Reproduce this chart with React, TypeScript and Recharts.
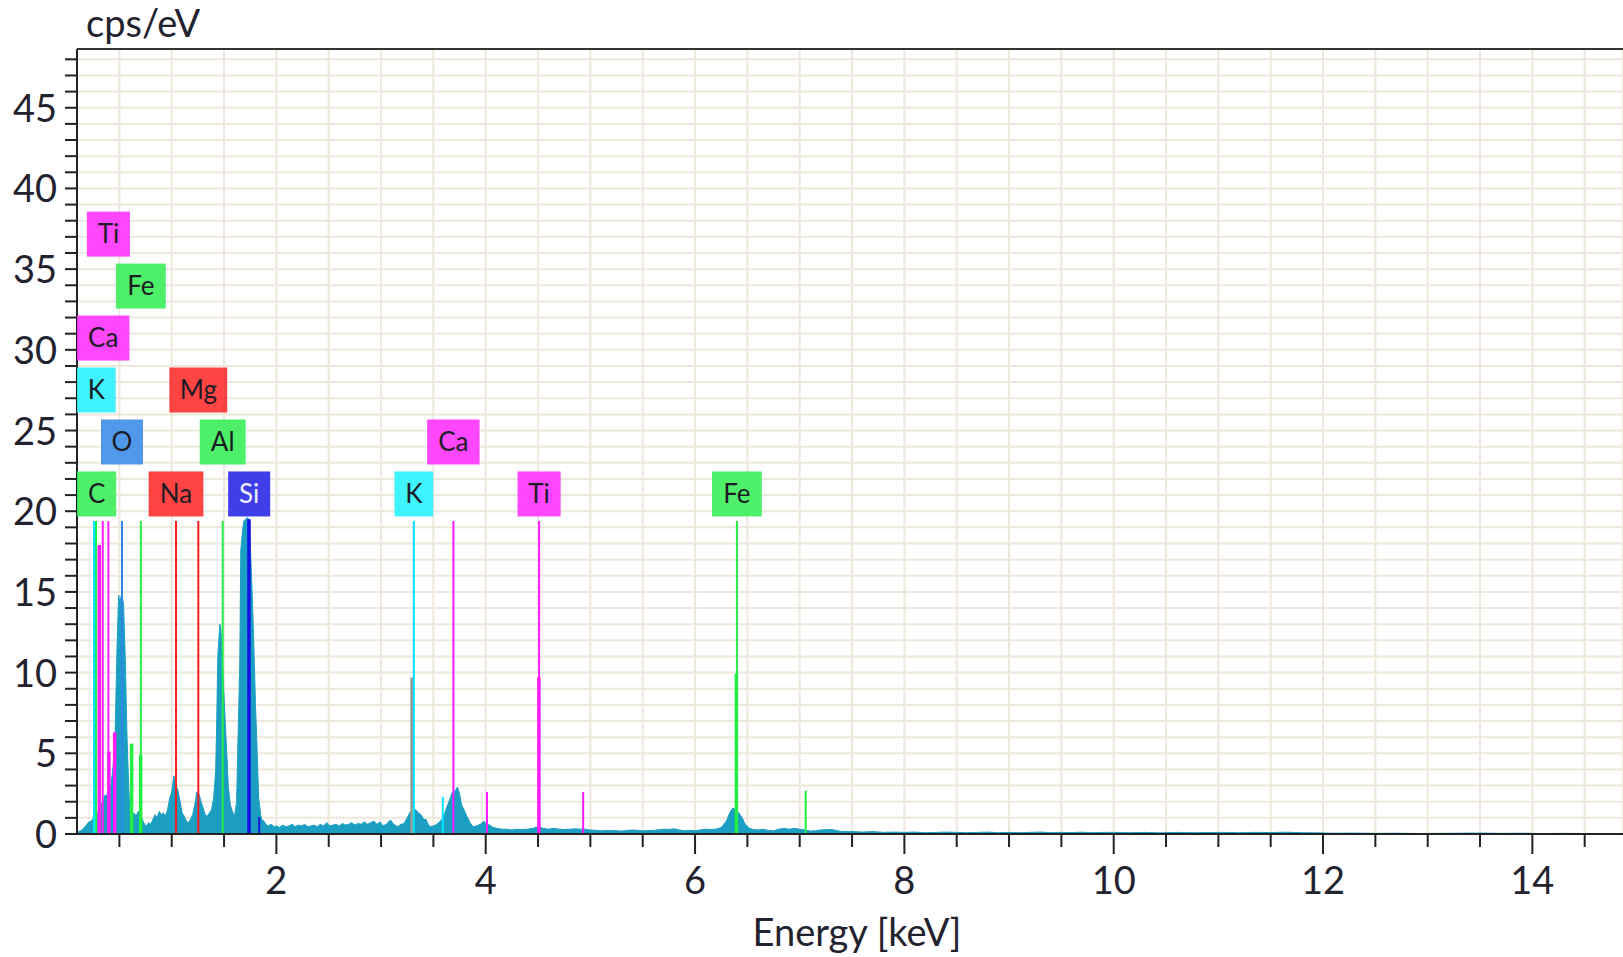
import { ComposedChart, Area, XAxis, YAxis, CartesianGrid, ReferenceLine, ReferenceDot } from 'recharts';

// EDS spectrum, [energy keV, cps/eV]
const spectrum: [number, number][] = [
  [0.095, 0.1], [0.11, 0.15], [0.13, 0.2], [0.15, 0.3], [0.17, 0.45], [0.19, 0.6], [0.21, 0.75], [0.23, 0.8],
  [0.245, 0.9], [0.26, 1.2], [0.28, 1.0], [0.3, 1.4], [0.32, 2.0], [0.34, 1.8], [0.36, 2.4], [0.38, 2.4],
  [0.4, 2.6], [0.42, 3.0], [0.44, 4.2], [0.46, 6.4], [0.477, 11.5], [0.493, 14.8], [0.505, 14.3], [0.515, 14.7],
  [0.525, 14.8], [0.54, 14.2], [0.556, 10.9], [0.572, 6.2], [0.588, 3.1], [0.6, 1.4], [0.615, 1.0], [0.64, 1.3],
  [0.66, 1.1], [0.68, 1.4], [0.7, 1.2], [0.72, 0.9], [0.74, 0.6], [0.76, 0.5], [0.78, 0.7], [0.8, 0.6],
  [0.82, 0.9], [0.84, 1.2], [0.86, 1.0], [0.88, 1.4], [0.9, 1.2], [0.92, 1.3], [0.94, 1.1], [0.96, 1.5],
  [0.98, 2.2], [1.0, 2.6], [1.02, 3.6], [1.04, 3.0], [1.06, 2.7], [1.08, 2.0], [1.1, 1.3], [1.12, 1.1],
  [1.14, 0.8], [1.16, 0.7], [1.18, 0.9], [1.2, 1.2], [1.22, 1.8], [1.24, 2.6], [1.26, 2.5], [1.28, 2.0],
  [1.3, 1.6], [1.32, 1.2], [1.34, 1.1], [1.36, 1.3], [1.38, 1.5], [1.4, 2.2], [1.42, 3.9], [1.43, 7.0],
  [1.44, 11.0], [1.46, 13.0], [1.47, 12.6], [1.48, 11.4], [1.5, 8.5], [1.51, 7.1], [1.53, 4.5], [1.54, 3.0],
  [1.56, 1.8], [1.58, 1.4], [1.6, 1.1], [1.62, 2.0], [1.63, 5.0], [1.65, 10.5], [1.66, 17.6], [1.68, 19.0],
  [1.69, 19.4], [1.72, 19.6], [1.74, 19.5], [1.75, 18.0], [1.77, 14.7], [1.79, 10.5], [1.8, 8.1], [1.82, 4.5],
  [1.83, 2.3], [1.85, 1.2], [1.86, 0.9], [1.88, 0.8], [1.9, 0.6], [1.92, 0.5], [1.95, 0.6], [1.98, 0.45],
  [2.0, 0.5], [2.03, 0.4], [2.06, 0.55], [2.09, 0.45], [2.12, 0.5], [2.15, 0.6], [2.18, 0.45], [2.21, 0.55],
  [2.24, 0.5], [2.27, 0.6], [2.3, 0.45], [2.33, 0.5], [2.36, 0.55], [2.39, 0.45], [2.42, 0.6], [2.45, 0.5],
  [2.48, 0.7], [2.51, 0.5], [2.54, 0.55], [2.57, 0.6], [2.6, 0.5], [2.63, 0.65], [2.66, 0.55], [2.69, 0.6],
  [2.72, 0.7], [2.75, 0.55], [2.78, 0.65], [2.81, 0.6], [2.84, 0.75], [2.87, 0.6], [2.9, 0.7], [2.93, 0.8],
  [2.96, 0.6], [2.99, 0.75], [3.02, 0.5], [3.05, 0.6], [3.09, 0.87], [3.12, 0.6], [3.16, 0.45], [3.19, 0.6],
  [3.22, 0.65], [3.25, 1.0], [3.28, 1.4], [3.31, 1.5], [3.33, 1.5], [3.36, 1.3], [3.38, 1.2], [3.41, 0.9],
  [3.43, 0.9], [3.45, 0.6], [3.47, 0.45], [3.5, 0.5], [3.52, 0.55], [3.55, 0.7], [3.58, 0.9], [3.61, 1.3],
  [3.63, 1.7], [3.66, 2.2], [3.68, 2.6], [3.71, 2.7], [3.73, 2.9], [3.75, 2.5], [3.77, 1.8], [3.8, 1.4],
  [3.82, 1.1], [3.85, 0.7], [3.88, 0.45], [3.91, 0.5], [3.95, 0.6], [3.98, 0.8], [4.01, 0.6], [4.04, 0.55],
  [4.07, 0.4], [4.11, 0.35], [4.15, 0.3], [4.2, 0.3], [4.25, 0.25], [4.3, 0.3], [4.35, 0.28], [4.4, 0.3],
  [4.45, 0.35], [4.5, 0.45], [4.55, 0.35], [4.6, 0.3], [4.65, 0.35], [4.7, 0.3], [4.75, 0.28], [4.8, 0.3],
  [4.85, 0.32], [4.9, 0.3], [4.95, 0.3], [5.0, 0.25], [5.1, 0.2], [5.2, 0.22], [5.3, 0.18], [5.4, 0.25],
  [5.5, 0.2], [5.6, 0.22], [5.7, 0.3], [5.75, 0.28], [5.8, 0.32], [5.85, 0.25], [5.9, 0.2], [5.95, 0.22],
  [6.0, 0.2], [6.05, 0.25], [6.1, 0.3], [6.15, 0.28], [6.2, 0.3], [6.25, 0.4], [6.3, 0.8], [6.33, 1.3],
  [6.36, 1.6], [6.39, 1.5], [6.42, 1.3], [6.45, 1.0], [6.48, 0.6], [6.52, 0.35], [6.56, 0.28], [6.6, 0.25],
  [6.65, 0.3], [6.7, 0.22], [6.75, 0.2], [6.8, 0.3], [6.85, 0.35], [6.9, 0.3], [6.95, 0.35], [7.0, 0.3],
  [7.05, 0.25], [7.1, 0.18], [7.15, 0.2], [7.2, 0.25], [7.3, 0.28], [7.35, 0.22], [7.4, 0.15], [7.5, 0.15],
  [7.6, 0.12], [7.7, 0.15], [7.8, 0.1], [7.9, 0.12], [8.0, 0.1], [8.1, 0.12], [8.2, 0.08], [8.3, 0.1],
  [8.4, 0.12], [8.5, 0.1], [8.6, 0.08], [8.7, 0.1], [8.8, 0.12], [8.9, 0.08], [9.0, 0.1], [9.1, 0.08],
  [9.2, 0.1], [9.3, 0.12], [9.4, 0.08], [9.5, 0.1], [9.6, 0.09], [9.7, 0.11], [9.8, 0.08], [9.9, 0.1],
  [10.0, 0.1], [10.15, 0.08], [10.3, 0.1], [10.45, 0.07], [10.6, 0.1], [10.75, 0.08], [10.9, 0.09], [11.05, 0.1],
  [11.2, 0.08], [11.35, 0.1], [11.5, 0.09], [11.65, 0.11], [11.8, 0.08], [11.95, 0.07], [12.1, 0.05], [12.3, 0.06],
  [12.5, 0.04], [12.7, 0.05], [12.9, 0.03], [13.1, 0.04], [13.3, 0.05], [13.5, 0.06], [13.7, 0.04], [13.9, 0.05],
  [14.1, 0.03], [14.3, 0.04], [14.5, 0.03], [14.7, 0.02], [14.866, 0.02],
];

// element marker lines (energy keV, top in cps/eV)
const markerLines = [
  { el: 'C', e: 0.277, top: 19.4 },
  { el: 'K', e: 0.26, top: 19.4 },
  { el: 'Ca', e: 0.341, top: 19.4 },
  { el: 'Ti', e: 0.395, top: 19.4 },
  { el: 'O', e: 0.525, top: 19.4 },
  { el: 'Fe', e: 0.705, top: 19.4 },
  { el: 'Na', e: 1.041, top: 19.4 },
  { el: 'Mg', e: 1.254, top: 19.4 },
  { el: 'Al', e: 1.487, top: 19.4 },
  { el: 'Si', e: 1.74, top: 19.4 },
  { el: 'K', e: 3.313, top: 19.4 },
  { el: 'Ca', e: 3.691, top: 19.4 },
  { el: 'Ti', e: 4.51, top: 19.4 },
  { el: 'Fe', e: 6.4, top: 19.4 },
  { el: 'Si', e: 1.836, top: 1.05 },
  { el: 'K', e: 3.59, top: 2.3 },
  { el: 'Ca', e: 4.012, top: 2.6 },
  { el: 'Ti', e: 4.931, top: 2.6 },
  { el: 'Fe', e: 7.057, top: 2.7 },
];

// coloured peak bars drawn over the spectrum
const peakBars = [
  { el: 'K', e: 0.267, top: 19.4 },
  { el: 'Ca', e: 0.308, top: 17.9 },
  { el: 'Ti', e: 0.4, top: 5.1 },
  { el: 'Ti', e: 0.455, top: 6.3 },
  { el: 'Fe', e: 0.617, top: 5.6 },
  { el: 'Fe', e: 0.703, top: 4.9 },
  { el: 'Si', e: 1.738, top: 19.5 },
  { el: 'sum', e: 3.296, top: 9.7 },
  { el: 'Ti', e: 4.508, top: 9.7 },
  { el: 'Fe', e: 6.395, top: 9.95 },
];

// label boxes: element, energy, stack level
const labelEls = ['C', 'Na', 'Si', 'K', 'Ti', 'Fe', 'O', 'Al', 'Ca', 'K', 'Mg', 'Ca', 'Fe', 'Ti'];
const labelEnergies = [0.277, 1.041, 1.74, 3.313, 4.51, 6.4, 0.525, 1.487, 3.691, 0.26, 1.254, 0.341, 0.705, 0.395];
const labelLevels = [21.07, 21.07, 21.07, 21.07, 21.07, 21.07, 24.29, 24.29, 24.29, 27.51, 27.51, 30.73, 33.95, 37.17];

const xTicks = [0.5, 1, 1.5, 2, 2.5, 3, 3.5, 4, 4.5, 5, 5.5, 6, 6.5, 7, 7.5, 8, 8.5, 9, 9.5, 10, 10.5, 11, 11.5, 12, 12.5, 13, 13.5, 14, 14.5];
const xLabels = [2, 4, 6, 8, 10, 12, 14];
const yTicks = [0, 1, 2, 3, 4, 5, 6, 7, 8, 9, 10, 11, 12, 13, 14, 15, 16, 17, 18, 19, 20, 21, 22, 23, 24, 25, 26, 27, 28, 29, 30, 31, 32, 33, 34, 35, 36, 37, 38, 39, 40, 41, 42, 43, 44, 45, 46, 47, 48];
const yLabels = [0, 5, 10, 15, 20, 25, 30, 35, 40, 45];

const colors: Record<string, string> = {
  C: '#22ee44', O: '#2f86e6', Na: '#f51d1d', Mg: '#f51d1d', Al: '#22ee44', Si: '#1414e6',
  K: '#00e6ff', Ca: '#ff1aff', Ti: '#ff1aff', Fe: '#22ee44', sum: '#9a9a9a',
};
const boxColors: Record<string, string> = {
  C: '#3bee5a', O: '#3d8ee8', Na: '#ff3030', Mg: '#ff3030', Al: '#3bee5a', Si: '#2a2ae8',
  K: '#2af2ff', Ca: '#ff33ff', Ti: '#ff33ff', Fe: '#3bee5a',
};
const charW: Record<string, number> = {
  C: 0.66, O: 0.77, N: 0.75, M: 0.89, A: 0.68, S: 0.53, K: 0.64, T: 0.57, F: 0.54, a: 0.51, e: 0.53, g: 0.49, i: 0.24, l: 0.24,
};

const FONT = 'Lato, "Open Sans", sans-serif';
const INK = '#23232f';
const PLOT_LEFT = 77;

const data = spectrum.map(([e, cps]) => ({ e, cps }));

const XTick = (props: any) => {
  const { x, y, payload } = props;
  const major = xLabels.includes(payload.value);
  return (
    <g>
      <line x1={x} x2={x} y1={y} y2={y + (major ? 20 : 13)} stroke="#222" strokeWidth={2} />
      {major && (
        <text x={x} y={y + 60} textAnchor="middle" fontFamily={FONT} fontSize={38} fill={INK}>
          {payload.value}
        </text>
      )}
    </g>
  );
};

const YTick = (props: any) => {
  const { x, y, payload } = props;
  const major = yLabels.includes(payload.value);
  return (
    <g>
      <line x1={x - 12} x2={x} y1={y} y2={y} stroke="#222" strokeWidth={2} />
      {major && (
        <text x={x - 20} y={y + 14} textAnchor="end" fontFamily={FONT} fontSize={38} fill={INK}>
          {payload.value}
        </text>
      )}
    </g>
  );
};

const LabelBox = ({ cx, cy, el }: any) => {
  const tw = el.split('').reduce((s: number, ch: string) => s + (charW[ch] ?? 0.55) * 26, 0);
  const w = tw + 22;
  const left = Math.max(PLOT_LEFT, cx - w / 2);
  return (
    <g>
      <rect x={left} y={cy - 22.5} width={w} height={45} fill={boxColors[el]} fillOpacity={0.9} />
      <text x={left + w / 2} y={cy + 9} textAnchor="middle" fontFamily={FONT} fontSize={26}
        fill={el === 'Si' ? '#eef0ff' : '#1c1c24'}>
        {el}
      </text>
    </g>
  );
};

const XTitle = () => (
  <text x={857} y={946} textAnchor="middle" fontFamily={FONT} fontSize={38} fill={INK}>Energy [keV]</text>
);
const YTitle = () => (
  <text x={86} y={37} textAnchor="start" fontFamily={FONT} fontSize={38} fill={INK}>cps/eV</text>
);

export default function App() {
  return (
    <div style={{ position: 'absolute', left: 0, top: 0, width: 1623, height: 957, overflow: 'hidden', background: '#fff' }}>
      <ComposedChart width={1623} height={957} data={data} margin={{ top: 49, right: 0, bottom: 0, left: 0 }}>
        <CartesianGrid stroke="#eee7dc" strokeWidth={2} />
        <XAxis
          type="number"
          dataKey="e"
          domain={[0.095, 14.866]}
          allowDataOverflow
          ticks={xTicks}
          interval={0}
          height={123}
          tickSize={0}
          tickMargin={0}
          tick={<XTick />}
          axisLine={{ stroke: '#222', strokeWidth: 2 }}
          label={<XTitle />}
        />
        <YAxis
          type="number"
          domain={[0, 48.64]}
          allowDataOverflow
          ticks={yTicks}
          interval={0}
          width={77}
          tickSize={0}
          tickMargin={0}
          tick={<YTick />}
          axisLine={{ stroke: '#222', strokeWidth: 2 }}
          label={<YTitle />}
        />
        <Area
          type="linear"
          dataKey="cps"
          stroke="#1a9fc2"
          strokeWidth={1}
          fill="#1a9fc2"
          fillOpacity={1}
          isAnimationActive={false}
          dot={false}
          activeDot={false}
        />
        {peakBars.map((p, i) => (
          <ReferenceLine key={`pb-${i}`} segment={[{ x: p.e, y: 0 }, { x: p.e, y: p.top }]}
            stroke={colors[p.el]} strokeWidth={3.5} />
        ))}
        {markerLines.map((m, i) => (
          <ReferenceLine key={`ml-${i}`} segment={[{ x: m.e, y: 0 }, { x: m.e, y: m.top }]}
            stroke={colors[m.el]} strokeWidth={2} />
        ))}
        <ReferenceLine y={48.64} stroke="#333" strokeWidth={2} />
        {labelEls.map((el, i) => (
          <ReferenceDot key={`lb-${i}`} x={labelEnergies[i]} y={labelLevels[i]} r={0}
            shape={(p: any) => <LabelBox cx={p.cx} cy={p.cy} el={el} />} />
        ))}
      </ComposedChart>
    </div>
  );
}
